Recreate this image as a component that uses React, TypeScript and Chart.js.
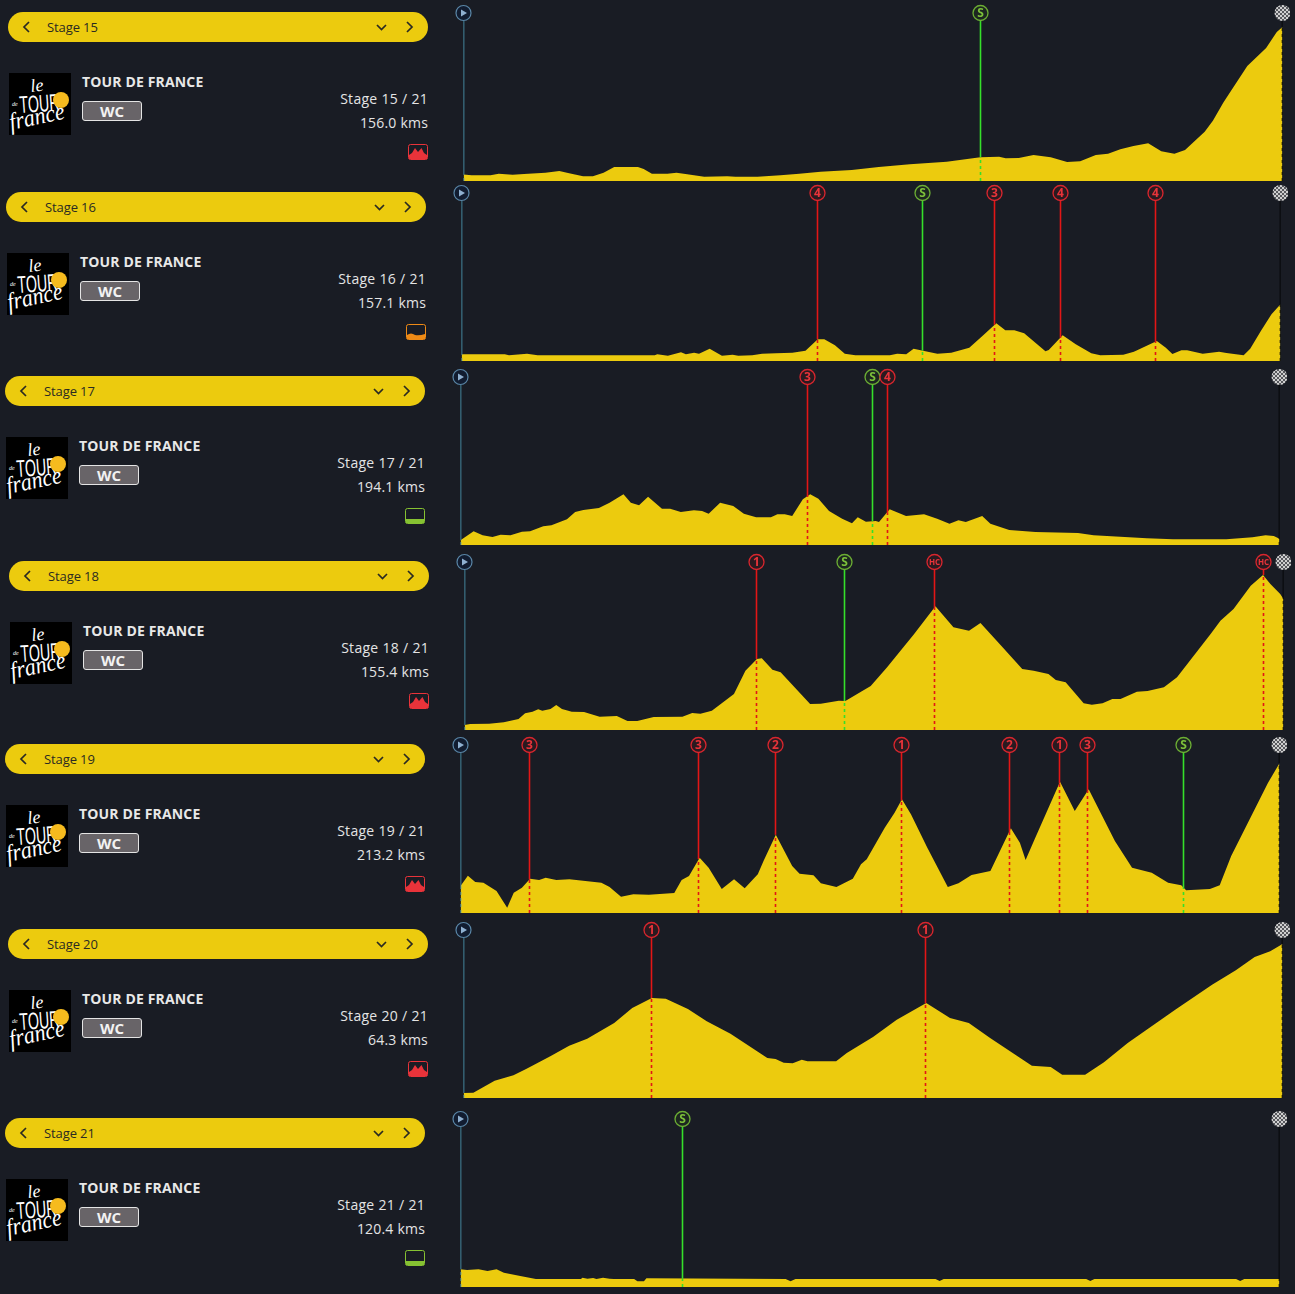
import React, { useEffect, useRef } from "react";
import { Chart, registerables } from "chart.js";

Chart.register(...registerables);

// Route position is % of stage distance; elevation is the relative profile height.
const stageNames = ["Stage 15", "Stage 16", "Stage 17", "Stage 18", "Stage 19", "Stage 20", "Stage 21"];
const stageCounts = ["Stage 15 / 21", "Stage 16 / 21", "Stage 17 / 21", "Stage 18 / 21", "Stage 19 / 21", "Stage 20 / 21", "Stage 21 / 21"];
const stageDistances = ["156.0 kms", "157.1 kms", "194.1 kms", "155.4 kms", "213.2 kms", "64.3 kms", "120.4 kms"];
const stageTypes = ["mountain", "hilly", "flat", "mountain", "mountain", "mountain", "flat"];

const route15 = [0,1,3.3,4.3,6,7.4,10,11.7,12.9,14.6,15.8,17.1,18.4,21.3,22,23,24.9,26,27.1,29.4,32.2,33.2,35.9,38.7,41,43.6,47.4,50.7,54.5,59,63.1,65.4,66.2,67.8,69.6,71.7,73.7,75.3,77.2,78.7,80.2,81.8,83.6,85.2,86.8,88.1,90.5,91.5,92.8,95.7,98,99.3,100];
const elev15 = [6.5,5.7,5.7,7.3,6.3,7,8.3,10,7.7,4.7,4.7,8.3,14,14,12,7.3,7.3,8.3,7,4.3,4.7,4.3,4.3,5.7,7.3,9.3,11,14,16.7,19.3,23.7,24.3,22.7,23,26,23.7,19,19.7,26,27.3,31.7,35,37.7,29.7,27.3,31,49.3,60.3,78.7,115,133,149,154];

const route16 = [0,5.3,5.8,8,9.3,23.6,23.9,25.2,26.8,27.4,28.4,29,30.3,31.8,33.1,33.8,35.5,36.7,38.4,40.4,42,43.5,44.3,45.6,46.8,48.1,52.3,53.2,54.3,55.2,56.5,58.1,59.8,62,63.6,65.3,66.4,67.5,68.7,71.3,71.7,73.4,75,76.9,78,80.8,82.1,84.9,86,86.8,87.9,88.6,90.5,92.5,93.4,95.5,96.3,97.6,98.9,100];
const elev16 = [6.7,6.7,5.7,7.3,5.7,5.7,6.7,5.3,8.7,6.7,8.3,7.3,12.3,5.3,6.3,5.3,5.7,7.3,7.7,8.3,10.3,21.7,21.7,15.7,7.3,5.7,5.7,7.3,6.7,12.3,10,7.3,8.3,13.3,25,37.7,30.7,30.7,27.7,9.7,11,25.7,16.7,7.7,5.7,6.3,9.3,20,13.3,7,10.7,10.7,7.3,9.3,8,5.7,12.3,30,46.7,56.7];

const route17 = [0,1.6,2.7,3.9,4.9,6.1,7.5,8.5,10.1,11.1,13,14,15,16.9,18.2,19.9,20.8,21.8,22.9,24.6,25.6,26.9,28.5,29.5,30.3,31.7,33.3,34.6,36.1,37.9,38.7,39.6,40.5,41.8,42.7,43.7,45,46.6,47.8,48.5,49.5,50.7,51.1,52.4,54.4,56.6,58.2,59.7,60.8,61.7,63.7,64.7,67,70.2,75.4,77.3,83.8,87,93.5,96.7,98.3,99.3,100];
const elev17 = [4.7,13.7,9.7,8,10.3,9.7,13.3,13.7,18.7,19.7,25.7,33,35,37,42.3,50.7,42.3,39.7,48.3,36.3,36.3,33,34.7,34,31.3,42.3,39,31.3,27.7,27.7,30.7,30.7,29,45.7,50.7,46.3,34,26.3,21.7,27.7,23.3,24,23,35.7,29,30.7,26.3,21.3,24.7,23,29,21.3,15,13,12,9.7,6.7,5.7,5.7,7.7,9.7,9,6.3];

const route18 = [0,0.7,3,4.8,6.6,7.4,8.3,9,9.5,10.5,11.2,11.9,13.1,14.6,16.5,18.6,19.9,21.1,23.1,26.6,27.8,28.8,30.2,32.9,34.3,35.7,36.3,37.6,38.6,42.2,43.5,45.7,46.5,49.6,51.6,54.9,57.5,59.7,61.6,63,65.7,68.1,69.5,71.3,72.2,73.4,75.6,76.6,77.9,79.1,80.1,82.1,83.4,85.4,87,91.1,92.3,93.9,96,97.5,98.4,99.6,100];
const elev18 = [5,6,6.3,7.7,11,16.7,18.3,20.7,19.3,21,25,21,18.3,18,13.3,14,9,9,13,13.3,17,16.3,19.3,36,59.3,71,71.7,60.3,57.7,26,26.3,29.3,29,44,62.7,96,123.7,102.7,99.3,107,82.7,61,59.3,56,50,47.7,26.7,25.3,26.7,31,31,38.3,39,42.7,52.7,96,109.3,121,144.3,155,146,136,131];

const route19 = [0,0.9,1.8,2.8,4.4,5.7,6.5,7.5,8.5,9.6,10.4,11.7,13.3,17.2,18.2,19.6,21.1,23,26.1,27,27.9,29.2,30.3,31.9,33.4,34.7,36.3,37,38.5,40.5,41.4,43.1,44,45.9,47.9,48.9,49.6,51.8,53,53.9,55,57,59.5,60.8,62.4,64.7,67.2,68.3,69,70.1,73.2,75,76.7,79.9,82,84.4,86.4,88,88.6,91.5,92.7,94.1,98.6,100];
const elev19 = [27,37.3,31,30.3,22,5.3,20.3,25.3,34.3,33,35.3,33,33.7,30.3,26,16.3,18.7,18.3,20,33,37,55.3,45.3,24,33.7,24.7,38.7,52,78.3,47,39.3,37.7,29.7,26,34.3,48.7,53.7,85.3,100.3,113.7,98.7,65.3,26,29.7,38,42,84.7,70.3,53,73.7,131.3,102,123.7,72,45.3,40.3,30.3,27.7,22.7,24,27.7,57,130.3,149.7];

const route20 = [0,1.2,3.8,6.1,7.7,10.6,12.9,15.1,18.4,20.6,23,24.7,27.4,29.7,32.6,37.1,38.1,39.1,40.2,41.3,42,45.5,46.8,50,52.9,56.5,59.4,61.7,64.3,69.4,71.7,73.1,75.9,78.2,81.1,86.9,91.4,94.3,96.6,98.5,100];
const elev20 = [5,5.3,17.3,22.7,29.3,41.7,52.3,59.3,75,90,100,99.3,89,76.7,64.3,40,39,35.3,34.7,38.3,36.7,36.7,45,61,78.3,95,80,75,60,32.3,31,23.3,23.3,35.7,55,88.3,113.3,127.7,141,146.7,154];

const route21 = [0,0.8,2.2,3.3,4.4,5.3,7.3,9.2,14.7,14.9,15.5,16.2,16.6,17.4,18.2,18.7,21.2,21.6,22.4,22.7,39.7,40.3,40.9,58,58.5,59,76.4,76.9,77.4,94.7,95.2,95.7,100];
const elev21 = [17.7,17,17.7,16,17.7,14.3,11,8,8,9.3,8.3,9,8,9.3,8.3,8,8,5.7,5.7,8.7,8,5.7,8,8,6,8,8,6,8,8,6,8,8];

const markRoute15 = [0, 63.1, 100];
const markLabel15 = ["start", "S", "finish"];
const markRoute16 = [0, 43.5, 56.3, 65.1, 73.1, 84.7, 100];
const markLabel16 = ["start", "4", "S", "3", "4", "4", "finish"];
const markRoute17 = [0, 42.4, 50.3, 52.1, 100];
const markLabel17 = ["start", "3", "S", "4", "finish"];
const markRoute18 = [0, 35.7, 46.4, 57.4, 97.5, 100];
const markLabel18 = ["start", "1", "S", "HC", "HC", "finish"];
const markRoute19 = [0, 8.4, 29.1, 38.5, 53.8, 67, 73.1, 76.6, 88.3, 100];
const markLabel19 = ["start", "3", "3", "2", "1", "2", "1", "3", "S", "finish"];
const markRoute20 = [0, 23, 56.4, 100];
const markLabel20 = ["start", "1", "1", "finish"];
const markRoute21 = [0, 27.1, 100];
const markLabel21 = ["start", "S", "finish"];

const routes = [route15, route16, route17, route18, route19, route20, route21];
const elevations = [elev15, elev16, elev17, elev18, elev19, elev20, elev21];
const markRoutes = [markRoute15, markRoute16, markRoute17, markRoute18, markRoute19, markRoute20, markRoute21];
const markLabels = [markLabel15, markLabel16, markLabel17, markLabel18, markLabel19, markLabel20, markLabel21];

// Layout of each row: left edge of the plot and the y of its marker row.
const rowX = [463, 461, 460, 464, 460, 463, 460];
const rowY = [13, 193, 377, 562, 745, 930, 1119];

const BG = "#191c24";
const YELLOW = "#eccb0e";
const TOP = 168;
const PLOT_WIDTH = 819;
const FONT = '"Open Sans", sans-serif';

// Aligns a marker to the pixel grid of the plot so its line stays crisp.
const snap = (x: number) => (Math.round((x * PLOT_WIDTH) / 100) * 100) / PLOT_WIDTH;

function elevAt(route: number[], elev: number[], x: number) {
  for (let i = 1; i < route.length; i++) {
    if (x <= route[i]) {
      const t = (x - route[i - 1]) / (route[i] - route[i - 1]);
      return elev[i - 1] + t * (elev[i] - elev[i - 1]);
    }
  }
  return elev[elev.length - 1];
}

function lineColor(label: string) {
  if (label === "start") return "#4f9db8";
  if (label === "finish") return "#000000";
  if (label === "S") return "#35e02a";
  return "#e21616";
}

const markerPlugin = {
  id: "stageMarkers",
  afterDatasetsDraw(chart: any, _a: any, opts: any) {
    const { ctx, scales } = chart;
    const rts: number[] = opts.routes;
    const labels: string[] = opts.labels;
    const cy = scales.y.getPixelForValue(TOP);
    rts.forEach((r, i) => {
      const cx = scales.x.getPixelForValue(snap(r));
      const label = labels[i];
      ctx.save();
      ctx.beginPath();
      ctx.arc(cx, cy, 7.5, 0, Math.PI * 2);
      if (label === "finish") {
        ctx.save();
        ctx.beginPath();
        ctx.arc(cx, cy, 8, 0, Math.PI * 2);
        ctx.clip();
        for (let a = -8; a < 8; a += 2) {
          for (let b = -8; b < 8; b += 2) {
            ctx.fillStyle = ((a + b) / 2) % 2 === 0 ? "#cfcfcf" : "#58595e";
            ctx.fillRect(Math.floor(cx) + a, Math.floor(cy) + b, 2, 2);
          }
        }
        ctx.restore();
      } else if (label === "start") {
        ctx.fillStyle = "#111c30";
        ctx.fill();
        ctx.lineWidth = 1.2;
        ctx.strokeStyle = "#5b87a8";
        ctx.stroke();
        ctx.fillStyle = "#8fb0d0";
        ctx.beginPath();
        ctx.moveTo(cx - 2.5, cy - 3.5);
        ctx.lineTo(cx + 3.5, cy);
        ctx.lineTo(cx - 2.5, cy + 3.5);
        ctx.closePath();
        ctx.fill();
      } else {
        const sprint = label === "S";
        ctx.fillStyle = sprint ? "#1c2620" : "#2a1a20";
        ctx.fill();
        ctx.lineWidth = 1.3;
        ctx.strokeStyle = sprint ? "#6cae34" : "#d9262e";
        ctx.stroke();
        ctx.fillStyle = sprint ? "#7cc03a" : "#e8343a";
        ctx.textAlign = "center";
        ctx.textBaseline = "middle";
        ctx.font = `bold ${label === "HC" ? 8 : 12}px ${FONT}`;
        ctx.fillText(label, cx, cy + 0.5);
      }
      ctx.restore();
    });
  },
};

function Profile({ index }: { index: number }) {
  const ref = useRef<HTMLCanvasElement>(null);
  useEffect(() => {
    const route = routes[index];
    const elev = elevations[index];
    const labels = markLabels[index];
    const datasets: any[] = [
      {
        data: route.map((x, i) => ({ x, y: elev[i] })),
        backgroundColor: YELLOW,
        borderWidth: 0,
        fill: "origin",
        pointRadius: 0,
        tension: 0,
        order: 5,
      },
    ];
    markRoutes[index].forEach((raw, i) => {
      const x = snap(raw);
      const h = elevAt(route, elev, raw);
      const color = lineColor(labels[i]);
      datasets.push({
        data: [{ x, y: h }, { x, y: TOP - 8 }],
        borderColor: color,
        borderWidth: 1.6,
        pointRadius: 0,
        fill: false,
        order: 2,
      });
      datasets.push({
        data: [{ x, y: 0 }, { x, y: h }],
        borderColor: color,
        borderWidth: 1.6,
        borderDash: [3, 3],
        pointRadius: 0,
        fill: false,
        order: 2,
      });
    });
    const chart = new Chart(ref.current!, {
      type: "line",
      data: { datasets },
      plugins: [markerPlugin],
      options: {
        responsive: false,
        animation: false,
        layout: { padding: { left: 12.5, right: 11.5, top: 10, bottom: 2 } },
        events: [],
        scales: {
          x: { type: "linear", min: 0, max: 100, display: false },
          y: { type: "linear", min: 0, max: TOP, display: false },
        },
        plugins: {
          legend: { display: false },
          tooltip: { enabled: false },
          stageMarkers: { routes: markRoutes[index], labels },
        } as any,
      },
    });
    return () => chart.destroy();
  }, [index]);
  return (
    <canvas
      ref={ref}
      width={843}
      height={180}
      style={{ position: "absolute", left: rowX[index] - 12, top: rowY[index] - 10, width: 843, height: 180 }}
    />
  );
}

function Logo({ x, y }: { x: number; y: number }) {
  return (
    <svg width={62} height={62} viewBox="0 0 62 62" style={{ position: "absolute", left: x, top: y }}>
      <rect width={62} height={62} fill="#000" />
      <g fill="#fff" fontFamily='"Liberation Serif", serif' fontStyle="italic">
        <text x={22} y={19} fontSize={18} transform="rotate(-6 22 19)">le</text>
        <text x={3} y={33} fontSize={6}>de</text>
        <text x={11} y={40} fontSize={24} fontFamily='"Liberation Sans", sans-serif' fontStyle="normal" textLength={40} lengthAdjust="spacingAndGlyphs" transform="rotate(-4 11 40)">TOUR</text>
        <text x={2} y={57} fontSize={24} textLength={56} lengthAdjust="spacingAndGlyphs" transform="rotate(-12 2 57)">france</text>
      </g>
      <circle cx={52} cy={27} r={8} fill="#f6bb1e" />
    </svg>
  );
}

function TypeIcon({ type, x, y }: { type: string; x: number; y: number }) {
  const color = type === "mountain" ? "#e8333a" : type === "hilly" ? "#ee8a16" : "#86c232";
  const fillPath =
    type === "mountain"
      ? "M1 15 V11 L4 9 L7 4 L10 8 L13.5 4 L16 9 L19 11 V15 Z"
      : type === "hilly"
      ? "M1 15 V11 Q5 8 9 11 Q13 12 19 10 V15 Z"
      : "M1 15 V11 H19 V15 Z";
  return (
    <svg width={20} height={16} viewBox="0 0 20 16" style={{ position: "absolute", left: x, top: y }}>
      <rect x={0.5} y={0.5} width={19} height={15} rx={2} fill={BG} stroke={color} />
      <path d={fillPath} fill={color} />
    </svg>
  );
}

function Panel({ index }: { index: number }) {
  const px = rowX[index] - 455;
  const my = rowY[index];
  const label = (t: string, style: React.CSSProperties) => (
    <div style={{ position: "absolute", whiteSpace: "nowrap", fontFamily: FONT, lineHeight: "20px", ...style }}>{t}</div>
  );
  return (
    <>
      <div style={{ position: "absolute", left: px, top: my - 1, width: 420, height: 30, borderRadius: 15, background: YELLOW }} />
      <svg width={420} height={30} style={{ position: "absolute", left: px, top: my - 1 }}>
        <g fill="none" stroke="#2a2a22" strokeWidth={1.7}>
          <polyline points="21,10 16,15 21,20" />
          <polyline points="369,13 373.5,17.5 378,13" />
          <polyline points="399,10 404,15 399,20" />
        </g>
      </svg>
      {label(stageNames[index], { left: px + 39, top: my + 4, fontSize: 13, color: "#2a2a22", letterSpacing: -0.1 })}
      <Logo x={px + 1} y={my + 60} />
      {label("TOUR DE FRANCE", { left: px + 74, top: my + 59, fontSize: 14, fontWeight: 700, color: "#e8e8e8", letterSpacing: 0.15 })}
      <div
        style={{
          position: "absolute",
          left: px + 74,
          top: my + 88,
          width: 60,
          height: 20,
          boxSizing: "border-box",
          background: "#686468",
          border: "1px solid #e4e4e4",
          borderRadius: 3,
          color: "#f2f2f2",
          fontFamily: FONT,
          fontWeight: 700,
          fontSize: 15,
          lineHeight: "18px",
          textAlign: "center",
        }}
      >
        WC
      </div>
      {label(stageCounts[index], { right: 1295 - (px + 420), top: my + 76, fontSize: 14, color: "#e4e4e4", letterSpacing: 0.3 })}
      {label(stageDistances[index], { right: 1295 - (px + 420), top: my + 100, fontSize: 14, color: "#e4e4e4", letterSpacing: 0.2 })}
      <TypeIcon type={stageTypes[index]} x={px + 400} y={my + 131} />
    </>
  );
}

export default function App() {
  return (
    <div style={{ position: "absolute", left: 0, top: 0, width: 1295, height: 1294, overflow: "hidden", background: BG }}>
      {stageNames.map((_, i) => (
        <React.Fragment key={i}>
          <Panel index={i} />
          <Profile index={i} />
        </React.Fragment>
      ))}
    </div>
  );
}
